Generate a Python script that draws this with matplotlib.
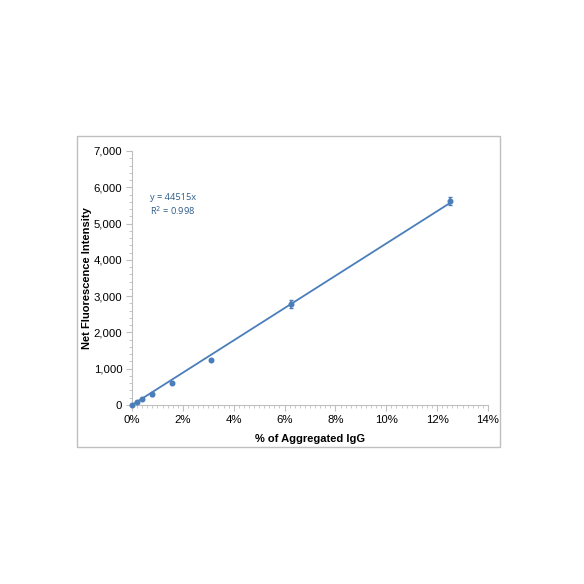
import numpy as np
import matplotlib
matplotlib.use("Agg")
import matplotlib.pyplot as plt
from matplotlib.patches import Rectangle
from matplotlib.ticker import MultipleLocator, FuncFormatter

# data (x in % aggregated IgG)
agg_pct = [0.0, 0.195, 0.39, 0.78, 1.5625, 3.125, 6.25, 12.5]
fluor = [0, 90, 160, 290, 610, 1250, 2780, 5620]
fluor_err = [10, 20, 20, 30, 30, 30, 100, 100]
slope = 44515
r2 = 0.998

blue = "#4a7ebb"
plt.rcParams['font.family'] = ['Liberation Sans', 'DejaVu Sans']

fig = plt.figure(figsize=(5.84, 5.84), dpi=100)
fig.patches.append(Rectangle((77 / 584, 1 - 447 / 584), 423 / 584, 311 / 584,
                             transform=fig.transFigure, fill=False,
                             edgecolor="#bfbfbf", linewidth=1.0))

ax = fig.add_axes([132 / 584, 1 - 405 / 584, 356 / 584, 254 / 584])

# trend line through origin
xfit = np.array([0, agg_pct[-1]])
ax.plot(xfit, slope * xfit / 100, color=blue, linewidth=1.3, zorder=2)
eb = ax.errorbar(agg_pct, fluor, yerr=fluor_err, fmt="o", color=blue, markersize=3.3,
                 elinewidth=1.2, capsize=1.5, capthick=1.0, zorder=3)
for art in eb.get_children():
    art.set_clip_on(False)

ax.set_xlim(0, 14)
ax.set_ylim(0, 7000)
ax.xaxis.set_major_locator(MultipleLocator(2))
ax.xaxis.set_minor_locator(MultipleLocator(0.2))
ax.yaxis.set_major_locator(MultipleLocator(1000))
ax.yaxis.set_minor_locator(MultipleLocator(200))
ax.xaxis.set_major_formatter(FuncFormatter(lambda v, p: f"{v:.0f}%"))
ax.yaxis.set_major_formatter(FuncFormatter(lambda v, p: f"{v:,.0f}"))

for s in ["top", "right"]:
    ax.spines[s].set_visible(False)
for s in ["left", "bottom"]:
    ax.spines[s].set_color("#bfbfbf")
    ax.spines[s].set_linewidth(0.8)
ax.tick_params(which="major", length=4, color="#bfbfbf", labelsize=8.2, pad=3)
ax.tick_params(which="minor", length=2, color="#bfbfbf")

ax.set_xlabel("% of Aggregated IgG", fontsize=8, fontweight="bold", labelpad=7)
ax.set_ylabel("Net Fluorescence Intensity", fontsize=8, fontweight="bold", labelpad=1)

ax.text(0.05, 0.835, f"y = {slope}x\nR$^2$ = {r2}", transform=ax.transAxes,
        fontsize=6.7, color="#2e5c8a", family=["Open Sans", "DejaVu Sans"],
        va="top", linespacing=1.2)

fig.savefig("out.png", dpi=100)
